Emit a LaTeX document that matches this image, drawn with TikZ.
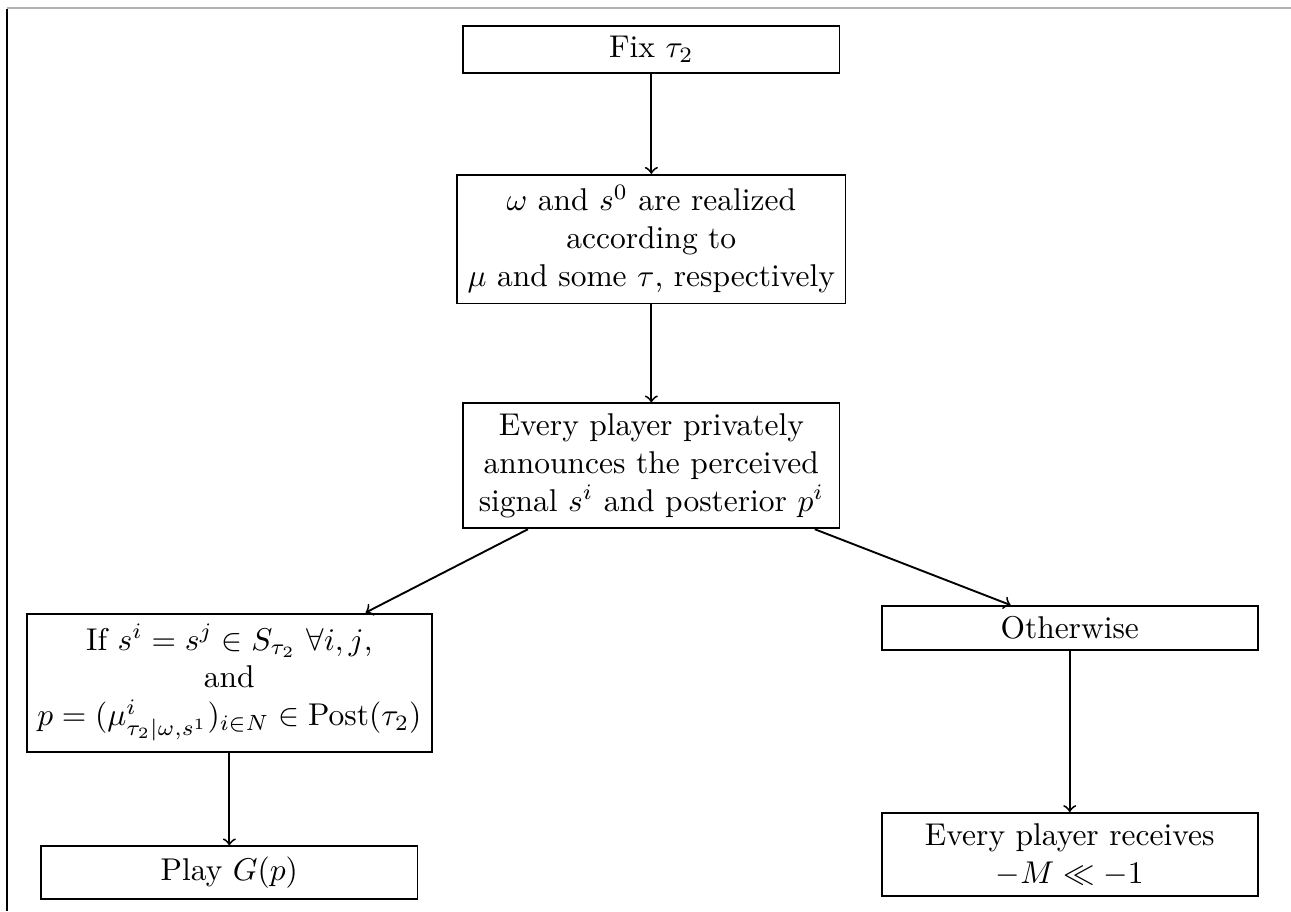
\documentclass[tikz,border=0pt]{standalone}
\usepackage{amsmath}
\begin{document}
\begin{tikzpicture}[semithick, box/.style={draw, align=center, minimum width=4.2cm}]
    \useasboundingbox (0,0) rectangle (14.41,10.17);
    \draw[gray!60] (0.08,10.08) -- (14.41,10.08);
    \draw (0.08,10.07) -- (0.08,0);

    \node[box] (n1) at (7.27,9.62) {Fix $\tau_2$};
    \node[box] (n2) at (7.27,7.5) {$\omega$ and $s^0$ are realized\\according to\\$\mu$ and some $\tau$, respectively};
    \node[box] (n3) at (7.27,4.97) {Every player privately\\announces the perceived\\signal $s^i$ and posterior $p^i$};
    \node[box] (n4) at (2.56,2.55) {If $s^i = s^j \in S_{\tau_2}\ \forall i,j$,\\and\\$p = (\mu^i_{\tau_2|\omega,s^1})_{i\in N} \in \mathrm{Post}(\tau_2)$};
    \node[box] (n5) at (11.94,3.16) {Otherwise};
    \node[box] (n6) at (2.56,0.43) {Play $G(p)$};
    \node[box] (n7) at (11.94,0.63) {Every player receives\\$-M \ll -1$};

    \draw[->] (n1) -- (n2);
    \draw[->] (n2) -- (n3);
    \draw[->] (n3) -- (n4);
    \draw[->] (n3) -- (n5);
    \draw[->] (n4) -- (n6);
    \draw[->] (n5) -- (n7);
\end{tikzpicture}
\end{document}
